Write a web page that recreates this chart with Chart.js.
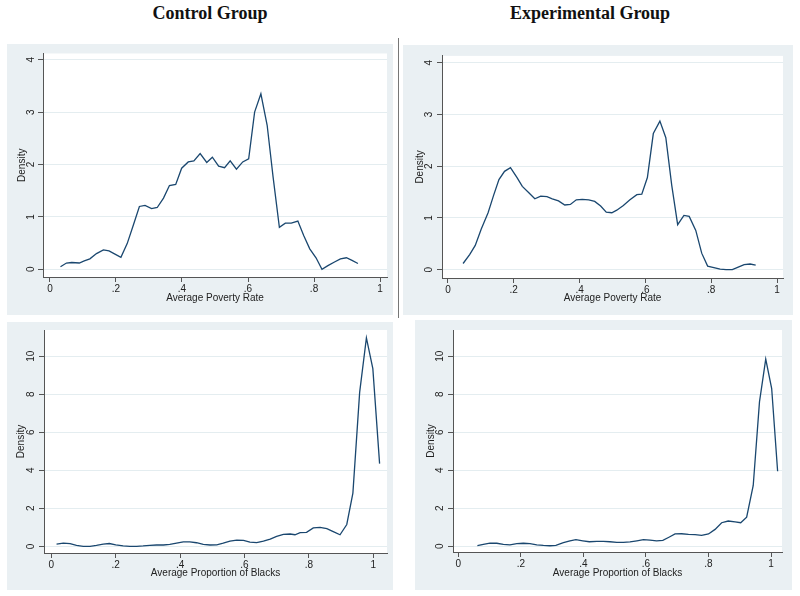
<!DOCTYPE html>
<html>
<head>
<meta charset="utf-8">
<script src="https://cdn.jsdelivr.net/npm/chart.js@4.4.1/dist/chart.umd.min.js"></script>
<style>
  body { margin: 0; width: 800px; height: 596px; background: #fff; position: relative; overflow: hidden; }
  .panel { position: absolute; background: #eaf0f3; }
  .panel canvas { display: block; }
  .head { position: absolute; top: 3px; transform: translateX(-50%); white-space: nowrap;
          font: bold 18px "Liberation Serif", "Times New Roman", serif; color: #111; }
  #sep { position: absolute; left: 398px; top: 38px; width: 1px; height: 280px; background: #777; }
</style>
</head>
<body>
<div class="head" style="left:210px">Control Group</div>
<div class="head" style="left:590px">Experimental Group</div>
<div id="sep"></div>
<div class="panel" style="left:7px;top:44px"><canvas id="ctrlPov" width="386" height="271"></canvas></div>
<div class="panel" style="left:403px;top:45px"><canvas id="expPov" width="390" height="270"></canvas></div>
<div class="panel" style="left:7px;top:322px"><canvas id="ctrlBlk" width="386" height="268"></canvas></div>
<div class="panel" style="left:415px;top:320px"><canvas id="expBlk" width="377" height="270"></canvas></div>

<script>
// tick labels
const xTicks = [0, 0.2, 0.4, 0.6, 0.8, 1];
const povTicks = [0, 1, 2, 3, 4];
const blkTicks = [0, 2, 4, 6, 8, 10];

// control group, average poverty rate
const ctrlPovX = [0.032,0.050,0.066,0.089,0.104,0.121,0.141,0.162,0.179,0.197,0.215,0.234,0.253,0.271,0.288,0.308,0.325,0.344,0.362,0.381,
  0.399,0.419,0.436,0.455,0.475,0.492,0.511,0.529,0.546,0.565,0.584,0.602,0.620,0.639,0.658,0.676,0.695,0.713,0.731,0.751,
  0.769,0.787,0.806,0.824,0.842,0.862,0.880,0.898,0.915,0.933];
const ctrlPovY = [0.05,0.12,0.13,0.12,0.16,0.20,0.30,0.37,0.35,0.29,0.23,0.49,0.85,1.20,1.22,1.16,1.18,1.36,1.60,1.62,
  1.93,2.05,2.07,2.21,2.04,2.14,1.97,1.94,2.07,1.91,2.05,2.11,3.00,3.35,2.75,1.76,0.80,0.88,0.88,0.92,
  0.64,0.39,0.22,0.00,0.07,0.14,0.20,0.22,0.17,0.11];

// experimental group, average poverty rate
const expPovX = [0.046,0.066,0.083,0.101,0.122,0.139,0.155,0.172,0.190,0.210,0.226,0.245,0.264,0.282,0.301,0.317,0.336,0.355,0.372,0.390,
  0.408,0.428,0.446,0.464,0.481,0.498,0.513,0.533,0.553,0.574,0.589,0.606,0.624,0.644,0.662,0.680,0.698,0.717,0.733,0.753,
  0.771,0.789,0.808,0.827,0.845,0.864,0.882,0.900,0.918,0.935];
const expPovY = [0.12,0.29,0.47,0.78,1.10,1.44,1.74,1.90,1.97,1.78,1.61,1.49,1.37,1.42,1.41,1.37,1.33,1.25,1.26,1.35,
  1.36,1.35,1.32,1.23,1.11,1.10,1.15,1.24,1.35,1.45,1.46,1.78,2.63,2.87,2.55,1.63,0.87,1.05,1.03,0.76,
  0.32,0.07,0.04,0.01,0.00,0.00,0.05,0.10,0.11,0.09];

// control group, average proportion of blacks
const ctrlBlkX = [0.016,0.037,0.058,0.078,0.099,0.120,0.140,0.161,0.180,0.200,0.223,0.244,0.265,0.285,0.306,0.327,0.348,0.368,0.389,0.410,
  0.430,0.451,0.472,0.493,0.514,0.534,0.555,0.576,0.597,0.617,0.638,0.659,0.680,0.700,0.721,0.742,0.757,0.773,0.793,0.814,
  0.835,0.856,0.876,0.897,0.918,0.937,0.958,0.979,0.999,1.020];
const ctrlBlkY = [0.12,0.17,0.14,0.05,0.00,0.00,0.05,0.12,0.15,0.08,0.02,0.00,0.00,0.02,0.05,0.07,0.07,0.10,0.17,0.24,
  0.24,0.19,0.10,0.07,0.08,0.17,0.28,0.33,0.31,0.22,0.20,0.27,0.38,0.52,0.63,0.65,0.61,0.72,0.74,0.97,
  1.00,0.93,0.77,0.61,1.15,2.80,8.10,10.96,9.35,4.35];

// experimental group, average proportion of blacks
const expBlkX = [0.061,0.080,0.101,0.123,0.144,0.165,0.187,0.208,0.229,0.251,0.272,0.293,0.312,0.336,0.357,0.376,0.398,0.419,0.443,0.464,
  0.485,0.507,0.528,0.549,0.571,0.592,0.613,0.634,0.654,0.675,0.693,0.714,0.736,0.757,0.778,0.800,0.821,0.842,0.863,0.885,
  0.903,0.922,0.943,0.963,0.983,1.002,1.021];
const expBlkY = [0.03,0.10,0.17,0.16,0.10,0.08,0.14,0.16,0.14,0.08,0.05,0.03,0.05,0.19,0.29,0.35,0.29,0.24,0.26,0.26,
  0.24,0.21,0.21,0.23,0.29,0.35,0.33,0.29,0.31,0.49,0.65,0.66,0.63,0.61,0.58,0.65,0.89,1.24,1.33,1.28,
  1.24,1.53,3.20,7.60,9.85,8.30,3.95];

const lineColor = '#1a476f';
const axisColor = '#555';
const textColor = '#222';

Chart.defaults.font.family = '"Liberation Sans", Arial, sans-serif';
Chart.defaults.font.size = 10;

const plotBg = {
  id: 'plotBg',
  beforeDraw(chart) {
    const a = chart.chartArea, ctx = chart.ctx;
    ctx.save();
    ctx.fillStyle = '#fff';
    ctx.fillRect(a.left, a.top, a.right - a.left, a.bottom - a.top);
    ctx.restore();
  }
};

function stataLabel(v) {
  return String(v).replace(/^0\./, '.');
}

function makeDensity(id, xs, ys, yTicks, o) {
  new Chart(document.getElementById(id), {
    type: 'line',
    data: {
      datasets: [{
        data: xs.map((x, i) => ({ x: x, y: ys[i] })),
        borderColor: lineColor,
        borderWidth: 1.3,
        pointRadius: 0,
        tension: 0,
        fill: false
      }]
    },
    options: {
      responsive: false,
      animation: false,
      layout: { padding: { top: o.top, right: o.right, bottom: 0, left: 0 } },
      plugins: { legend: { display: false }, tooltip: { enabled: false } },
      scales: {
        x: {
          type: 'linear',
          min: o.xMin, max: o.xMax,
          afterBuildTicks: s => { s.ticks = xTicks.map(v => ({ value: v })); },
          afterFit: s => { s.height = o.xH; },
          ticks: { autoSkip: false, maxRotation: 0, padding: 1, color: textColor,
                   callback: v => stataLabel(v) },
          grid: { drawOnChartArea: false, tickLength: 5, tickColor: axisColor },
          border: { color: axisColor, width: 1 },
          title: { display: true, text: o.xTitle, color: textColor,
                   padding: { top: 0, bottom: o.xTitlePad } }
        },
        y: {
          min: o.yMin, max: o.yMax,
          afterBuildTicks: s => { s.ticks = yTicks.map(v => ({ value: v })); },
          afterFit: s => { s.width = o.yW; },
          ticks: { autoSkip: false, minRotation: 90, maxRotation: 90, crossAlign: 'center',
                   padding: o.yPad, color: textColor },
          grid: { color: '#e4edf0', tickLength: 5, tickColor: axisColor },
          border: { color: axisColor, width: 1 },
          title: { display: true, text: 'Density', color: textColor,
                   padding: { top: o.yTitlePad, bottom: 0 } }
        }
      }
    },
    plugins: [plotBg]
  });
}

makeDensity('ctrlPov', ctrlPovX, ctrlPovY, povTicks, {
  xMin: -0.021, xMax: 1.021, yMin: -0.147, yMax: 4.12,
  top: 9, right: 6, xH: 38, yW: 36, yPad: 3.5, yTitlePad: 9, xTitlePad: 10.7,
  xTitle: 'Average Poverty Rate'
});
makeDensity('expPov', expPovX, expPovY, povTicks, {
  xMin: -0.018, xMax: 1.018, yMin: -0.16, yMax: 4.13,
  top: 10, right: 10, xH: 37, yW: 39, yPad: 4.9, yTitlePad: 11, xTitlePad: 10.7,
  xTitle: 'Average Poverty Rate'
});
makeDensity('ctrlBlk', ctrlBlkX, ctrlBlkY, blkTicks, {
  xMin: -0.023, xMax: 1.043, yMin: -0.35, yMax: 11.38,
  top: 8, right: 6, xH: 37, yW: 37, yPad: 1.7, yTitlePad: 8.7, xTitlePad: 11,
  xTitle: 'Average Proportion of Blacks'
});
makeDensity('expBlk', expBlkX, expBlkY, blkTicks, {
  xMin: -0.017, xMax: 1.035, yMin: -0.3, yMax: 11.38,
  top: 10, right: 10, xH: 38, yW: 38, yPad: 2.4, yTitlePad: 10.7, xTitlePad: 11,
  xTitle: 'Average Proportion of Blacks'
});
</script>
</body>
</html>
